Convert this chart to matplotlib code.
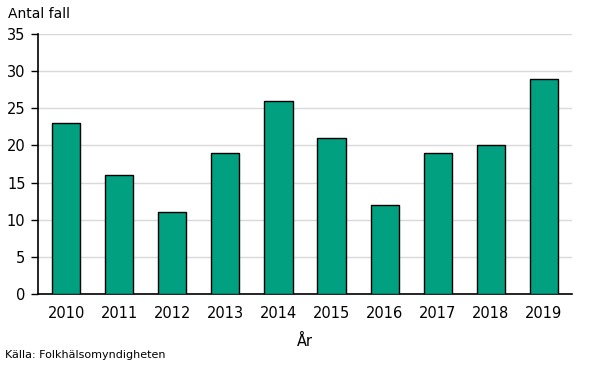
import matplotlib.pyplot as plt

years = ['2010', '2011', '2012', '2013', '2014', '2015', '2016', '2017', '2018', '2019']
cases = [23, 16, 11, 19, 26, 21, 12, 19, 20, 29]
yticks = [0, 5, 10, 15, 20, 25, 30, 35]

fig = plt.figure(figsize=(5.9, 3.68), dpi=100)
ax = fig.add_axes([38/590, 1 - 294/368, (572-38)/590, (294-34)/368])

x = range(len(years))
ax.bar(x, cases, width=0.53, color='#00A080', edgecolor='black', linewidth=1, zorder=3)

ax.set_xlim(-0.53, len(years) - 0.47)
ax.set_ylim(0, 35)
ax.set_yticks(yticks)
ax.set_xticks(list(x))
ax.set_xticklabels(years)
ax.yaxis.grid(True, color='#d9d9d9', linewidth=1, zorder=0)
ax.set_axisbelow(True)

for s in ['top', 'right']:
    ax.spines[s].set_visible(False)
ax.spines['left'].set_linewidth(1.2)
ax.spines['bottom'].set_linewidth(1.2)
ax.tick_params(axis='x', length=0, pad=9, labelsize=10.5)
ax.tick_params(axis='y', length=5, width=1, pad=4, labelsize=10.5)

ax.set_xlabel('År', fontsize=10.5, labelpad=9)
fig.text(8/590, 1 - 14/368, 'Antal fall', fontsize=10, va='center', ha='left')
fig.text(5/590, 1 - 355/368, 'Källa: Folkhälsomyndigheten', fontsize=8, va='center', ha='left')

fig.savefig('out.png', dpi=100)
